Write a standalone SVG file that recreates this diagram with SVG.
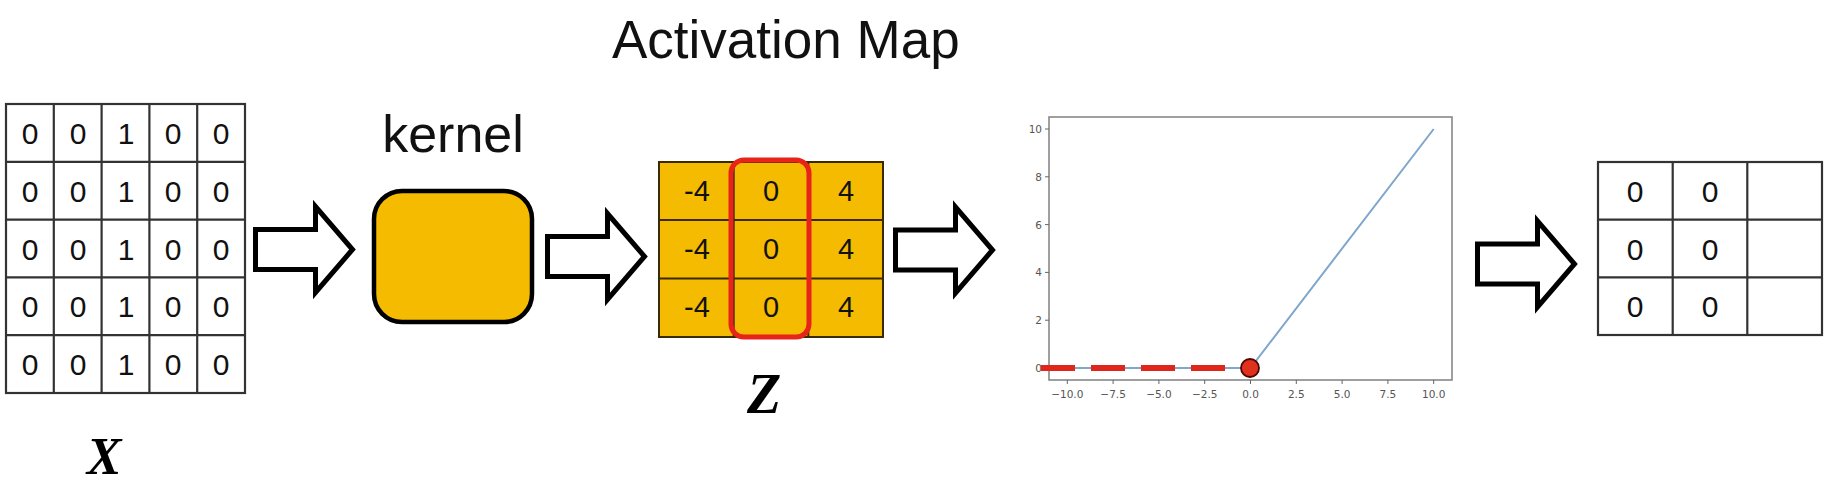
<svg xmlns="http://www.w3.org/2000/svg" width="1828" height="484" viewBox="0 0 1828 484">
<style>
.t{font-family:"Liberation Sans","Open Sans",sans-serif;fill:#111}
.d{font-size:30px;text-anchor:middle;dominant-baseline:central}
.dy{font-size:29px;text-anchor:middle;dominant-baseline:central}
.g{fill:none;stroke:#333;stroke-width:2.2}
.gy{stroke:#3a2a00;stroke-width:2}
.arr{fill:#fff;stroke:#000;stroke-width:5;stroke-linejoin:miter}
.tk{font-family:"DejaVu Sans",sans-serif;font-size:10.5px;fill:#555}
.var{font-family:"Liberation Serif",serif;font-weight:bold;font-style:italic;fill:#000;text-anchor:middle}
</style>
<rect width="1828" height="484" fill="#fff"/>
<text class="t" x="612" y="58" font-size="53">Activation Map</text>

<g id="X">
  <rect class="g" x="6" y="104" width="239" height="289"/>
  <path class="g" d="M53.8,104V393M101.6,104V393M149.4,104V393M197.2,104V393M6,161.8H245M6,219.6H245M6,277.4H245M6,335.2H245"/>
  <g class="t d">
    <text x="30" y="133">0</text><text x="78" y="133">0</text><text x="126" y="133">1</text><text x="173" y="133">0</text><text x="221" y="133">0</text>
    <text x="30" y="191">0</text><text x="78" y="191">0</text><text x="126" y="191">1</text><text x="173" y="191">0</text><text x="221" y="191">0</text>
    <text x="30" y="249">0</text><text x="78" y="249">0</text><text x="126" y="249">1</text><text x="173" y="249">0</text><text x="221" y="249">0</text>
    <text x="30" y="306">0</text><text x="78" y="306">0</text><text x="126" y="306">1</text><text x="173" y="306">0</text><text x="221" y="306">0</text>
    <text x="30" y="364">0</text><text x="78" y="364">0</text><text x="126" y="364">1</text><text x="173" y="364">0</text><text x="221" y="364">0</text>
  </g>
  <text class="var" x="104" y="474" font-size="52">X</text>
</g>

<g id="kernel">
  <text class="t" x="453" y="152" font-size="52" text-anchor="middle">kernel</text>
  <rect x="374" y="191" width="158" height="131" rx="28" fill="#F4BB00" stroke="#000" stroke-width="4.5"/>
</g>

<g id="Z">
  <rect x="659" y="162" width="224" height="175" fill="#F4BB00" stroke="#3a2a00" stroke-width="2"/>
  <path class="gy" d="M733.7,162V337M808.3,162V337M659,220H883M659,278.5H883"/>
  <rect x="731" y="160" width="78" height="177" rx="13" fill="none" stroke="#E8231A" stroke-width="5"/>
  <g class="t dy">
    <text x="697" y="191">-4</text><text x="771" y="191">0</text><text x="846" y="191">4</text>
    <text x="697" y="249">-4</text><text x="771" y="249">0</text><text x="846" y="249">4</text>
    <text x="697" y="307">-4</text><text x="771" y="307">0</text><text x="846" y="307">4</text>
  </g>
  <text class="var" x="764" y="413" font-size="56">Z</text>
</g>

<g id="relu-plot">
  <rect x="1049" y="117" width="403" height="263" fill="#fff" stroke="#888" stroke-width="1.6"/>
  <path stroke="#666" stroke-width="1" d="M1049,368h-4M1049,320.2h-4M1049,272.4h-4M1049,224.6h-4M1049,176.8h-4M1049,129h-4M1067.3,380v4M1113.1,380v4M1158.9,380v4M1204.7,380v4M1250.5,380v4M1296.3,380v4M1342.1,380v4M1387.9,380v4M1433.7,380v4"/>
  <g class="tk" text-anchor="end">
    <text x="1042" y="372">0</text><text x="1042" y="324">2</text><text x="1042" y="276">4</text><text x="1042" y="229">6</text><text x="1042" y="181">8</text><text x="1042" y="133">10</text>
  </g>
  <g class="tk" text-anchor="middle">
    <text x="1067.3" y="398">−10.0</text><text x="1113.1" y="398">−7.5</text><text x="1158.9" y="398">−5.0</text><text x="1204.7" y="398">−2.5</text><text x="1250.5" y="398">0.0</text><text x="1296.3" y="398">2.5</text><text x="1342.1" y="398">5.0</text><text x="1387.9" y="398">7.5</text><text x="1433.7" y="398">10.0</text>
  </g>
  <polyline points="1067.3,368 1250.5,368 1433.7,129" fill="none" stroke="#7fa6cc" stroke-width="2"/>
  <line x1="1041" y1="368" x2="1243" y2="368" stroke="#E0261A" stroke-width="6" stroke-dasharray="34 16"/>
  <circle cx="1250" cy="368" r="9" fill="#E0301E" stroke="#4a0800" stroke-width="1.8"/>
</g>

<g id="output">
  <rect class="g" x="1598" y="162" width="224" height="173"/>
  <path class="g" d="M1672.7,162V335M1747.3,162V335M1598,219.7H1822M1598,277.3H1822"/>
  <g class="t d">
    <text x="1635" y="191">0</text><text x="1710" y="191">0</text>
    <text x="1635" y="249">0</text><text x="1710" y="249">0</text>
    <text x="1635" y="306">0</text><text x="1710" y="306">0</text>
  </g>
</g>

<g id="connectors">
  <path class="arr" d="M255.5,229.5H315.5V206.5L352.5,249.5L315.5,292.5V269.5H255.5Z"/>
  <path class="arr" d="M547.5,236.5H607.5V213.5L644.5,256.5L607.5,299.5V276.5H547.5Z"/>
  <path class="arr" d="M895.5,230H955.5V207L992.5,250L955.5,293V270H895.5Z"/>
  <path class="arr" d="M1477.5,244H1537.5V221L1574.5,264L1537.5,307V284H1477.5Z"/>
</g>
</svg>
